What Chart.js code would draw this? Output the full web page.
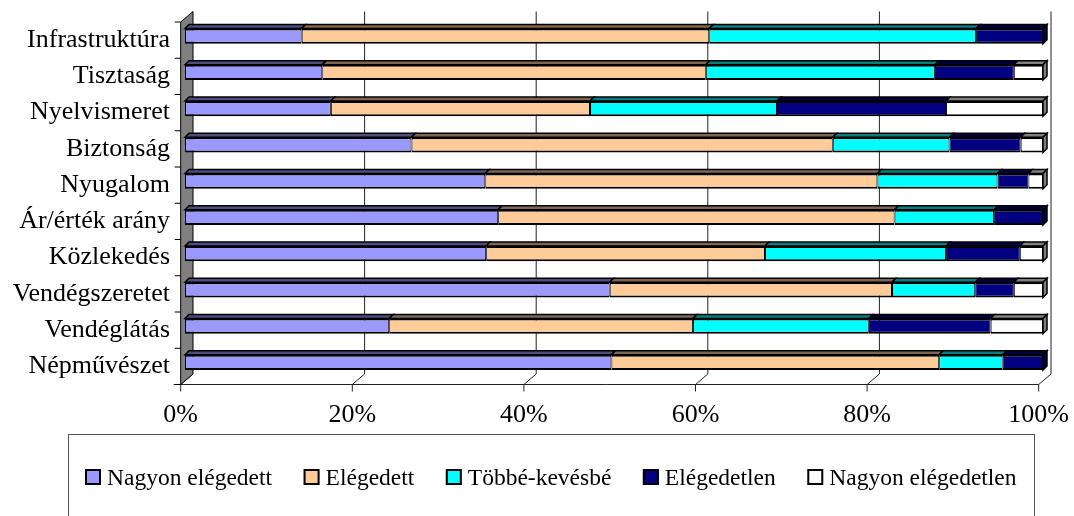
<!DOCTYPE html>
<html>
<head>
<meta charset="utf-8">
<script src="https://cdn.jsdelivr.net/npm/chart.js"></script>
<style>
  body { margin: 0; background: #fff; }
</style>
</head>
<body>
<canvas id="myChart1" width="1074" height="516"></canvas>
<script>
var categories = ['Infrastruktúra', 'Tisztaság', 'Nyelvismeret', 'Biztonság', 'Nyugalom',
                  'Ár/érték arány', 'Közlekedés', 'Vendégszeretet', 'Vendéglátás', 'Népművészet'];
var seriesNames = ['Nagyon elégedett', 'Elégedett', 'Többé-kevésbé', 'Elégedetlen', 'Nagyon elégedetlen'];

var nagyonElegedett   = [13.6, 16.0, 17.0, 26.4, 35.0, 36.5, 35.1, 49.5, 23.8, 49.7];
var elegedett         = [47.5, 44.7, 30.2, 49.1, 45.7, 46.2, 32.5, 32.9, 35.4, 38.2];
var tobbeKevesbe      = [31.1, 26.7, 21.8, 13.6, 14.0, 11.6, 21.1,  9.7, 20.5,  7.4];
var elegedetlen       = [ 7.8,  9.2, 19.7,  8.3,  3.6,  5.7,  8.6,  4.5, 14.2,  4.7];
var nagyonElegedetlen = [ 0.0,  3.4, 11.3,  2.6,  1.7,  0.0,  2.7,  3.4,  6.1,  0.0];

var tickValues = [0, 20, 40, 60, 80, 100];

var colors = ['#9999ff', '#ffcc99', '#00ffff', '#000080', '#ffffff'];
var topColors = ['#4d4d80', '#806650', '#008080', '#000040', '#808080'];

// bar plane -> front / back plane, and the depth of a single bar
var FX = -4.3, FY = 4, BX = 8, BY = -6.5, DX = 4, DY = 4;

var serif = '"Liberation Serif", "Times New Roman", serif';

var series = [nagyonElegedett, elegedett, tobbeKevesbe, elegedetlen, nagyonElegedetlen];
var datasets = series.map(function (values, i) {
    return {
        label: seriesNames[i],
        data: values,
        backgroundColor: colors[i],
        borderColor: '#000',
        borderWidth: {top: 2, bottom: 2, left: 1, right: 1},
        borderSkipped: false,
        barPercentage: 0.42,
        categoryPercentage: 1
    };
});

var box3d = {
    id: 'box3d',
    beforeDatasetsDraw: function (chart) {
        var ctx = chart.ctx, a = chart.chartArea, xs = chart.scales.x;
        var L = a.left, T = a.top, B = a.bottom;
        ctx.save();
        // back gridlines + floor diagonals + ticks
        ctx.strokeStyle = '#222';
        ctx.lineWidth = 1;
        tickValues.forEach(function (v) {
            var x = xs.getPixelForValue(v);
            ctx.beginPath();
            if (v > 0) {
                ctx.moveTo(x + BX, T + BY);
                ctx.lineTo(x + BX, B + BY);
            } else {
                ctx.moveTo(x + BX, B + BY);
            }
            ctx.lineTo(x + FX, B + FY);
            ctx.lineTo(x + FX, B + FY + 7);
            ctx.stroke();
        });
        // front floor edge
        ctx.beginPath();
        ctx.moveTo(L + FX - 7, B + FY);
        ctx.lineTo(xs.getPixelForValue(100) + FX, B + FY);
        ctx.stroke();
        // left wall
        ctx.fillStyle = '#808080';
        ctx.beginPath();
        ctx.moveTo(L + FX, T + FY);
        ctx.lineTo(L + BX, T + BY);
        ctx.lineTo(L + BX, B + BY);
        ctx.lineTo(L + FX, B + FY);
        ctx.closePath();
        ctx.fill();
        ctx.strokeStyle = '#000';
        ctx.stroke();
        // category ticks on the wall edge
        var step = (B - T) / categories.length;
        for (var k = 0; k <= categories.length; k++) {
            var y = T + FY + k * step;
            ctx.beginPath();
            ctx.moveTo(L + FX - 6, y);
            ctx.lineTo(L + FX, y);
            ctx.stroke();
        }
        ctx.restore();
    },
    afterDatasetsDraw: function (chart) {
        var ctx = chart.ctx;
        ctx.save();
        ctx.strokeStyle = '#000';
        ctx.lineWidth = 1.5;
        ctx.lineJoin = 'miter';
        var last = [];
        chart.data.datasets.forEach(function (ds, di) {
            var meta = chart.getDatasetMeta(di);
            meta.data.forEach(function (el, i) {
                var p = el.getProps(['x', 'y', 'base', 'height'], true);
                var x0 = Math.min(p.x, p.base), x1 = Math.max(p.x, p.base);
                if (x1 - x0 < 0.5) return;
                var yt = p.y - p.height / 2;
                ctx.fillStyle = topColors[di];
                ctx.beginPath();
                ctx.moveTo(x0, yt);
                ctx.lineTo(x0 + DX, yt - DY);
                ctx.lineTo(x1 + DX, yt - DY);
                ctx.lineTo(x1, yt);
                ctx.closePath();
                ctx.fill();
                ctx.stroke();
                last[i] = {x: x1, yt: yt, yb: p.y + p.height / 2, c: topColors[di]};
            });
        });
        last.forEach(function (e) {
            ctx.fillStyle = e.c;
            ctx.beginPath();
            ctx.moveTo(e.x, e.yt);
            ctx.lineTo(e.x + DX, e.yt - DY);
            ctx.lineTo(e.x + DX, e.yb - DY);
            ctx.lineTo(e.x, e.yb);
            ctx.closePath();
            ctx.fill();
            ctx.stroke();
        });
        ctx.restore();
    },
    afterDraw: function (chart) {
        var ctx = chart.ctx;
        ctx.save();
        ctx.strokeStyle = '#555';
        ctx.lineWidth = 1;
        ctx.strokeRect(68.5, 434.5, 966, 100);
        ctx.font = '23.5px ' + serif;
        ctx.textBaseline = 'alphabetic';
        var x = 85;
        chart.data.datasets.forEach(function (ds) {
            ctx.fillStyle = ds.backgroundColor;
            ctx.fillRect(x, 469, 16, 16);
            ctx.lineWidth = 2;
            ctx.strokeStyle = '#000';
            ctx.strokeRect(x + 1, 470, 14, 14);
            ctx.fillStyle = '#000';
            ctx.fillText(ds.label, x + 22, 485);
            x += 22 + ctx.measureText(ds.label).width + 31.5;
        });
        ctx.restore();
    }
};

var config = {
    type: 'bar',
    data: {
        labels: categories,
        datasets: datasets
    },
    options: {
        indexAxis: 'y',
        responsive: false,
        animation: false,
        layout: {
            padding: {top: 18, right: 31, left: 0, bottom: 0}
        },
        scales: {
            x: {
                stacked: true,
                min: 0,
                max: 100,
                grid: {display: false, drawTicks: false},
                border: {display: false},
                afterFit: function (scale) {
                    scale.height = 135.5;
                    scale.paddingLeft = 0;
                    scale.paddingRight = 0;
                },
                afterBuildTicks: function (scale) {
                    scale.ticks = tickValues.map(function (v) { return {value: v}; });
                },
                ticks: {
                    color: '#000',
                    padding: 19,
                    labelOffset: -4.3,
                    maxRotation: 0,
                    font: {family: serif, size: 26},
                    callback: function (v) { return v + '%'; }
                }
            },
            y: {
                stacked: true,
                grid: {display: false, drawTicks: false},
                border: {display: false},
                afterFit: function (scale) {
                    scale.width = 185;
                    scale.paddingTop = 0;
                    scale.paddingBottom = 0;
                },
                ticks: {
                    color: '#000',
                    padding: 15,
                    labelOffset: 4,
                    autoSkip: false,
                    font: {family: serif, size: 26}
                }
            }
        },
        plugins: {
            legend: {display: false},
            tooltip: {enabled: false}
        }
    },
    plugins: [box3d]
};

var myChart = new Chart(
    document.getElementById('myChart1'),
    config
);
</script>
</body>
</html>
